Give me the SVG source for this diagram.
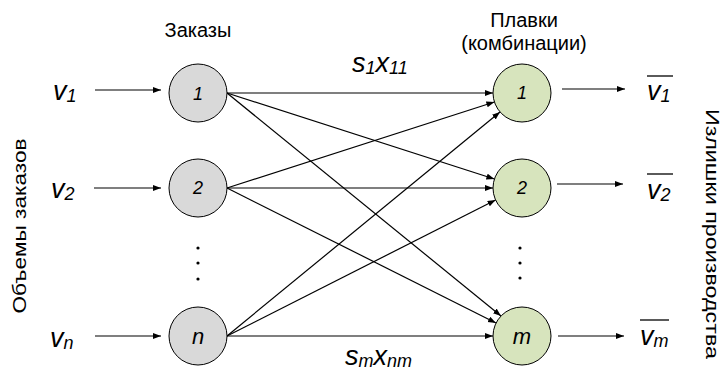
<svg xmlns="http://www.w3.org/2000/svg" width="722" height="380" viewBox="0 0 722 380">
<style>
.lbl{font-family:"Liberation Sans",Arial,sans-serif;font-size:20px;fill:#000}
.vlbl{font-family:"Liberation Sans",Arial,sans-serif;font-size:19px;fill:#000}
.vr{font-size:18px}
.math{font-family:"Liberation Sans",Arial,sans-serif;font-style:italic;font-size:27px;fill:#000}
.sub{font-size:18px}
.nd{font-family:"Liberation Sans",Arial,sans-serif;font-style:italic;font-size:18px;fill:#000;text-anchor:middle}
.ndl{font-size:22px}
.ord{fill:#d9d9d9;stroke:#000;stroke-width:1}
.mlt{fill:#d7e4bd;stroke:#000;stroke-width:1}
.edge{stroke:#000;stroke-width:1.2;fill:none;marker-end:url(#ah)}
.ov{stroke:#000;stroke-width:1.3}
</style>
<defs>
<marker id="ah" markerUnits="userSpaceOnUse" markerWidth="9" markerHeight="7" refX="8" refY="3" orient="auto"><path d="M0,0 L8,3 L0,6 z" fill="#000"/></marker>
</defs>
<rect width="722" height="380" fill="#fff"/>
<text class="lbl" x="198" y="37" text-anchor="middle">Заказы</text>
<text class="lbl" x="524" y="27" text-anchor="middle">Плавки</text>
<text class="lbl" x="524" y="50" text-anchor="middle">(комбинации)</text>
<text class="vlbl" transform="translate(26,226) rotate(-90)" text-anchor="middle" textLength="175" lengthAdjust="spacingAndGlyphs">Объемы заказов</text>
<text class="vlbl vr" transform="translate(706,234) rotate(90)" text-anchor="middle" textLength="250" lengthAdjust="spacingAndGlyphs">Излишки производства</text>
<g id="connectors">
<line class="edge" x1="95" y1="90" x2="161" y2="90"/>
<line class="edge" x1="94" y1="188" x2="161" y2="188"/>
<line class="edge" x1="95" y1="336" x2="161" y2="336"/>
<line class="edge" x1="562" y1="89" x2="625" y2="89"/>
<line class="edge" x1="557" y1="184" x2="623" y2="184"/>
<line class="edge" x1="558" y1="336" x2="624" y2="336"/>
<line class="edge" x1="227" y1="93" x2="493" y2="93"/>
<line class="edge" x1="227" y1="188" x2="494.4" y2="102"/>
<line class="edge" x1="227" y1="336" x2="500" y2="112"/>
<line class="edge" x1="227" y1="93" x2="494.4" y2="179"/>
<line class="edge" x1="227" y1="188" x2="493" y2="188"/>
<line class="edge" x1="227" y1="336" x2="495.6" y2="200"/>
<line class="edge" x1="227" y1="93" x2="501" y2="316"/>
<line class="edge" x1="227" y1="188" x2="496" y2="323"/>
<line class="edge" x1="227" y1="336" x2="493" y2="336"/>
</g>
<g id="order1"><circle class="ord" cx="198" cy="93" r="29"/><text class="nd" x="198" y="100">1</text></g>
<g id="order2"><circle class="ord" cx="198" cy="188" r="29"/><text class="nd" x="198" y="194">2</text></g>
<g id="ordern"><circle class="ord" cx="198" cy="336" r="29"/><text class="nd ndl" x="198" y="344">n</text></g>
<g id="melt1"><circle class="mlt" cx="522" cy="93" r="29"/><text class="nd" x="522" y="99">1</text></g>
<g id="melt2"><circle class="mlt" cx="522" cy="188" r="29"/><text class="nd" x="522" y="194">2</text></g>
<g id="meltm"><circle class="mlt" cx="522" cy="336" r="29"/><text class="nd ndl" x="522" y="344">m</text></g>
<g id="dots">
<circle cx="198" cy="248" r="1.6"/><circle cx="198" cy="263" r="1.6"/><circle cx="198" cy="279" r="1.6"/>
<circle cx="520" cy="248" r="1.6"/><circle cx="520" cy="263" r="1.6"/><circle cx="520" cy="278" r="1.6"/>
</g>
<g id="inputs">
<text class="math" x="53" y="100">v<tspan class="sub" dy="2">1</tspan></text>
<text class="math" x="51" y="198">v<tspan class="sub" dy="2">2</tspan></text>
<text class="math" x="50" y="347">v<tspan class="sub" dy="2">n</tspan></text>
</g>
<g id="outputs">
<text class="math" x="647" y="100">v<tspan class="sub" dy="2">1</tspan></text>
<line class="ov" x1="647" y1="76" x2="673" y2="76"/>
<text class="math" x="647" y="199">v<tspan class="sub" dy="2">2</tspan></text>
<line class="ov" x1="647" y1="174" x2="673" y2="174"/>
<text class="math" x="640" y="345">v<tspan class="sub" dy="2">m</tspan></text>
<line class="ov" x1="640" y1="320" x2="669" y2="320"/>
</g>
<g id="edge-labels">
<text class="math" x="352" y="72">s<tspan class="sub" dy="2">1</tspan><tspan dy="-2">x</tspan><tspan class="sub" dy="2">11</tspan></text>
<text class="math" x="345" y="365">s<tspan class="sub" dy="2">m</tspan><tspan dy="-2">x</tspan><tspan class="sub" dy="2">nm</tspan></text>
</g>
</svg>
